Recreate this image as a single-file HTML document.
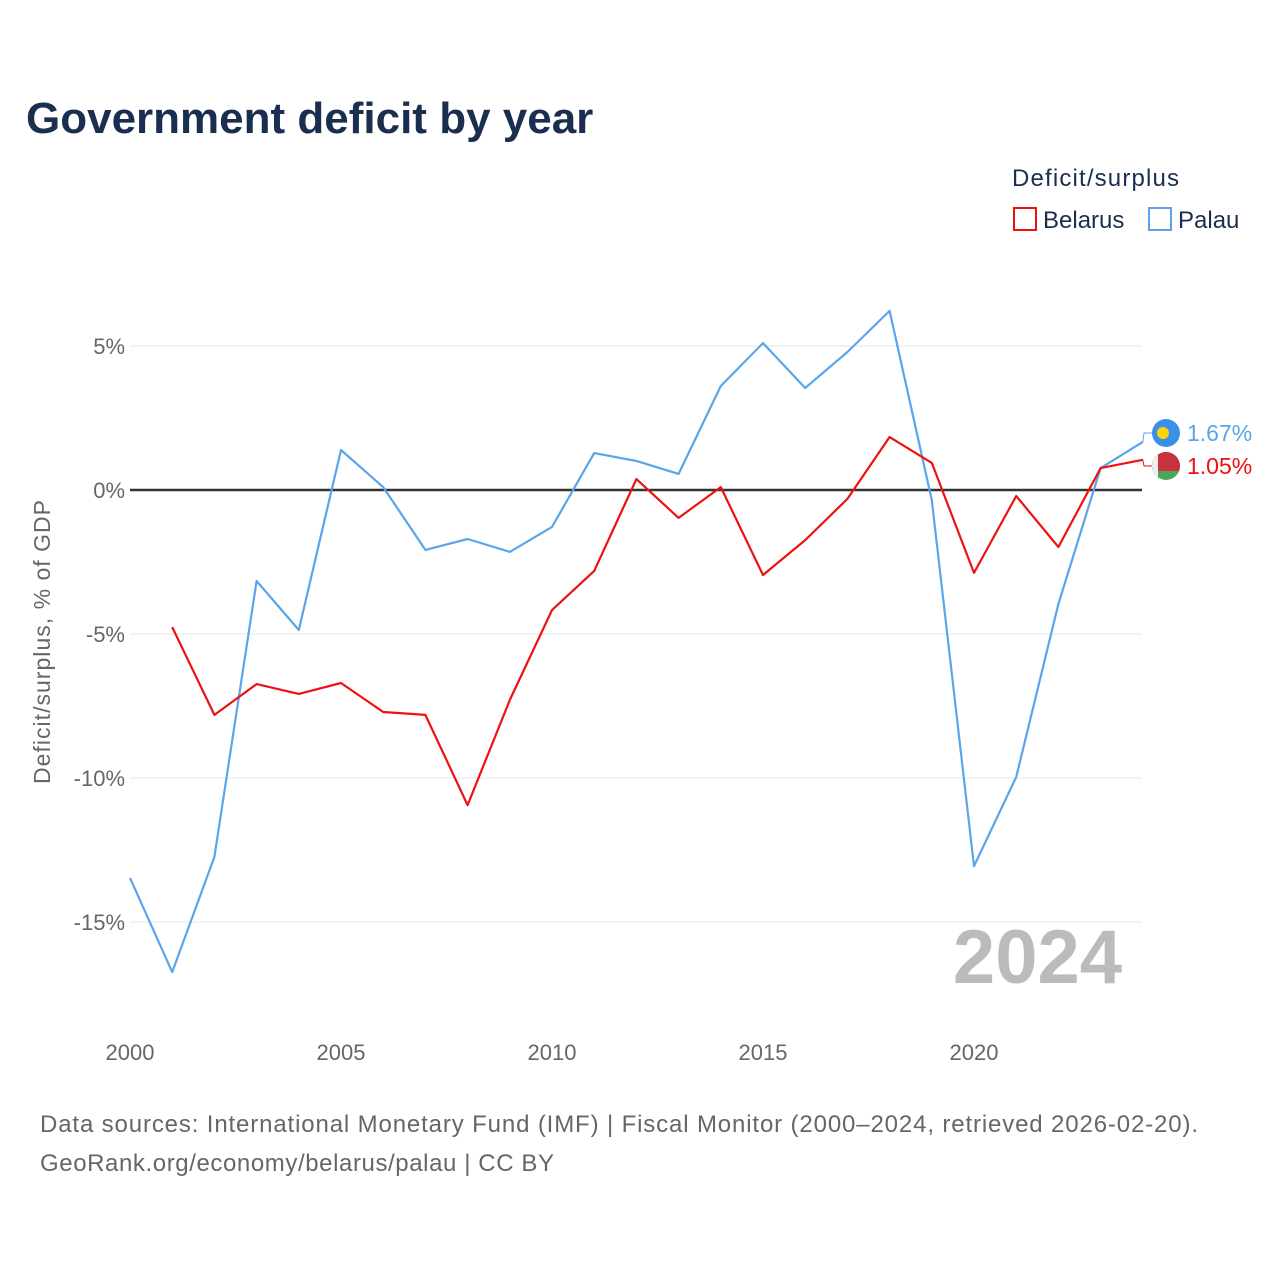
<!DOCTYPE html>
<html><head><meta charset="utf-8"><style>
body{margin:0;background:#fff;font-family:"Liberation Sans",sans-serif}
svg text{font-family:"Liberation Sans",sans-serif}
</style></head><body>
<svg id="chart" width="1280" height="1280" viewBox="0 0 1280 1280">
<defs><clipPath id="bc"><circle cx="1166" cy="466" r="14"/></clipPath></defs>
<text x="26" y="133" font-size="44" font-weight="bold" fill="#1a2e4f">Government deficit by year</text>
<text x="1012" y="186" font-size="24" fill="#1a2e4f" textLength="167">Deficit/surplus</text>
<g><rect x="1014" y="208" width="22" height="22" fill="none" stroke="#ee1111" stroke-width="2"/><text x="1043" y="228" font-size="24" fill="#1a2e4f">Belarus</text></g>
<g><rect x="1149" y="208" width="22" height="22" fill="none" stroke="#5aa5ea" stroke-width="2"/><text x="1178" y="228" font-size="24" fill="#1a2e4f">Palau</text></g>
<text transform="translate(50,642) rotate(-90)" text-anchor="middle" font-size="23" fill="#666" textLength="284">Deficit/surplus, % of GDP</text>
<g id="grid"></g><g id="series"></g>
<text x="1122" y="983" text-anchor="end" font-size="76" font-weight="bold" fill="#bbb">2024</text>
<text x="40" y="1132" font-size="24" fill="#666" textLength="1158">Data sources: International Monetary Fund (IMF) | Fiscal Monitor (2000–2024, retrieved 2026-02-20).</text>
<text x="40" y="1171" font-size="24" fill="#666" textLength="514">GeoRank.org/economy/belarus/palau | CC BY</text>
</svg>
<script>
const years=[2000,2001,2002,2003,2004,2005,2006,2007,2008,2009,2010,2011,2012,2013,2014,2015,2016,2017,2018,2019,2020,2021,2022,2023,2024];
const palau=[-13.47,-16.74,-12.74,-3.16,-4.86,1.39,0.10,-2.08,-1.70,-2.15,-1.28,1.28,1.01,0.56,3.61,5.10,3.54,4.79,6.22,-0.35,-13.06,-9.97,-3.96,0.76,1.67];
const belarus=[null,-4.76,-7.81,-6.74,-7.08,-6.70,-7.71,-7.81,-10.94,-7.29,-4.17,-2.81,0.38,-0.97,0.10,-2.95,-1.74,-0.31,1.84,0.94,-2.88,-0.21,-1.98,0.76,1.05];
const yTicks=[5,0,-5,-10,-15];
const xTicks=[2000,2005,2010,2015,2020];
const NS="http://www.w3.org/2000/svg";
const xs=y=>130+(y-2000)*42.2;
const ys=v=>490-v*28.8;
function mk(t,a,p){const e=document.createElementNS(NS,t);for(const k in a)e.setAttribute(k,a[k]);p.appendChild(e);return e;}
const g=document.getElementById('grid'),s=document.getElementById('series');
yTicks.forEach(v=>{
 const l=mk('line',{x1:130,x2:1142,y1:ys(v),y2:ys(v),stroke:v===0?'#333':'#e6e6e6','stroke-width':v===0?2.5:1},g);
 
 
 const t=mk('text',{x:125,y:ys(v)+8,'text-anchor':'end','font-size':22,fill:'#666'},g);
 t.textContent=v+'%';
 
 
});
xTicks.forEach(y=>{
 const t=mk('text',{x:xs(y),y:1060,'text-anchor':'middle','font-size':22,fill:'#666'},g);
 t.textContent=y;
 
 
});
function line(vals,color,name){
 const pts=[];vals.forEach((v,i)=>{if(v!==null)pts.push(xs(years[i]).toFixed(1)+','+ys(v).toFixed(1));});
 const p=mk('polyline',{points:pts.join(' '),fill:'none',stroke:color,'stroke-width':2.2,'stroke-linejoin':'round'},s);
 
 
}
line(palau,'#5aa5ea','palau-line');
line(belarus,'#ee1111','belarus-line');
const lp=palau[palau.length-1],lb=belarus[belarus.length-1];
const ex=xs(2024);
mk('polyline',{points:`${ex},${ys(lp)} 1144,433 1152,433`,fill:'none',stroke:'#5aa5ea','stroke-width':1},s);
mk('polyline',{points:`${ex},${ys(lb)} 1144,466 1152,466`,fill:'none',stroke:'#ee1111','stroke-width':1},s);
const f1=mk('g',{},s);


mk('circle',{cx:1166,cy:433,r:14,fill:'#3a8fe8'},f1);mk('circle',{cx:1163,cy:433,r:6,fill:'#ffd400'},f1);
const f2=mk('g',{'clip-path':'url(#bc)'},s);


mk('rect',{x:1152,y:452,width:28,height:28,fill:'#4aa657'},f2);
mk('rect',{x:1152,y:452,width:28,height:19,fill:'#c8313e'},f2);
mk('rect',{x:1152,y:452,width:6,height:28,fill:'#eee'},f2);
const t1=mk('text',{x:1187,y:441,'font-size':23,fill:'#5aa5ea'},s);t1.textContent=lp.toFixed(2)+'%';


const t2=mk('text',{x:1187,y:474,'font-size':23,fill:'#ee1111'},s);t2.textContent=lb.toFixed(2)+'%';


</script>
</body></html>
